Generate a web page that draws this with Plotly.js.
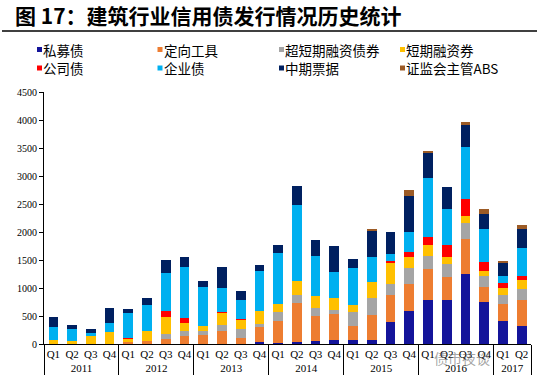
<!DOCTYPE html>
<html>
<head>
<meta charset="utf-8">
<script src="https://cdn.plot.ly/plotly-3.0.1.min.js"></script>
<style>html,body{margin:0;padding:0;background:#fff;}#chart{width:537px;height:388px;}</style>
</head>
<body>
<div id="chart"></div>
<script>
// Category labels (two-level x axis)
var years = ['2011','2011','2011','2011','2012','2012','2012','2012','2013','2013','2013','2013',
             '2014','2014','2014','2014','2015','2015','2015','2015','2016','2016','2016','2016','2017','2017'];
var quarters = ['Q1','Q2','Q3','Q4','Q1','Q2','Q3','Q4','Q1','Q2','Q3','Q4',
                'Q1','Q2','Q3','Q4','Q1','Q2','Q3','Q4','Q1','Q2','Q3','Q4','Q1','Q2'];

// Series values (亿元)
var siMuZhai     = [0,0,0,0,0,0,0,0,0,0,0,30,15,35,47,77,65,71,385,587,777,789,1258,759,403,314];
var dingXiang    = [0,0,0,0,30,60,85,140,160,240,113,267,389,690,451,463,261,439,499,481,558,415,623,262,309,463];
var chaoDuanQi   = [0,0,0,0,0,0,100,85,70,95,154,65,160,150,137,71,249,309,196,297,244,220,285,195,172,202];
var duanQi       = [80,50,135,215,65,165,290,155,100,220,155,220,155,250,231,202,119,296,368,184,190,131,119,89,113,172];
var gongSiZhai   = [0,0,0,0,20,0,120,80,0,18,18,0,0,0,0,0,0,0,41,101,148,219,297,155,89,65];
var qiYeZhai     = [220,225,70,155,430,475,675,920,680,420,350,719,909,1365,707,481,665,434,119,350,1051,636,932,599,125,505];
var zhongPiao    = [185,60,60,265,75,120,230,165,110,380,154,113,142,330,279,463,166,463,386,635,451,386,398,256,231,327];
var abs          = [0,0,0,0,0,0,0,0,0,0,0,0,0,0,0,0,0,47,0,107,36,0,59,89,36,77];

var seriesNames  = ['私募债','定向工具','超短期融资债券','短期融资券','公司债','企业债','中期票据','证监会主管ABS'];
var seriesValues = [siMuZhai, dingXiang, chaoDuanQi, duanQi, gongSiZhai, qiYeZhai, zhongPiao, abs];
var seriesColors = ['#14149a','#ed7d31','#a5a5a5','#ffc000','#ff0000','#00b0f0','#002060','#9c5b26'];

var chartTitle = '图 17：建筑行业信用债发行情况历史统计';
var watermark = '债市夜谈';

var traces = seriesNames.map(function(n, k){
  return {
    type: 'bar',
    name: n,
    x: [years, quarters],
    y: seriesValues[k],
    marker: {color: seriesColors[k], line: {width: 0}},
    hoverinfo: 'name+y'
  };
});

// plot area in pixels
var ML = 44, MR = 6, MT = 92, MB = 44;

// custom legend (4 columns x 2 rows)
var legCols = [37, 157.5, 279, 400];
var legRows = [49.5, 68];
var shapes = [];
var annotations = [];
seriesNames.forEach(function(n, k){
  var cx = legCols[k % 4], cy = legRows[Math.floor(k / 4)];
  shapes.push({
    type: 'rect', xref: 'paper', yref: 'paper',
    xsizemode: 'pixel', ysizemode: 'pixel', xanchor: 0, yanchor: 1,
    x0: cx - ML, x1: cx - ML + 5, y0: MT - cy - 2.5, y1: MT - cy + 2.5,
    fillcolor: seriesColors[k], line: {width: 0}
  });
  annotations.push({
    text: n, xref: 'paper', yref: 'paper', x: 0, y: 1,
    xshift: cx - ML + 5, yshift: MT - cy, xanchor: 'left', yanchor: 'middle',
    showarrow: false, borderpad: 0,
    font: {family: 'Noto Sans CJK SC', size: 13.5, color: '#000'}
  });
});
// title underline
shapes.push({
  type: 'line', xref: 'paper', yref: 'paper',
  xsizemode: 'pixel', ysizemode: 'pixel', xanchor: 0, yanchor: 1,
  x0: -42, x1: 537 - ML, y0: MT - 31, y1: MT - 31,
  line: {color: '#000', width: 1.5}
});
// watermark
annotations.push({
  text: watermark, xref: 'paper', yref: 'paper', x: 0, y: 1,
  xshift: 462 - ML, yshift: MT - 358, xanchor: 'center', yanchor: 'middle',
  showarrow: false, font: {family: 'Noto Sans CJK SC', size: 14, color: 'rgba(90,90,90,0.55)'}
});

var layout = {
  width: 537, height: 388,
  margin: {l: ML, r: MR, t: MT, b: MB, pad: 0},
  paper_bgcolor: '#fff', plot_bgcolor: '#fff',
  barmode: 'stack', bargap: 0.48,
  showlegend: false,
  title: {
    text: '<b>' + chartTitle + '</b>',
    xref: 'container', yref: 'container',
    x: 15 / 537, xanchor: 'left', y: 1 - 17 / 388, yanchor: 'middle',
    font: {family: 'Noto Sans CJK SC', size: 21, color: '#000'}
  },
  xaxis: {
    type: 'multicategory',
    tickangle: 0,
    showline: true, linecolor: '#000', linewidth: 1,
    ticks: '', showgrid: false, zeroline: false,
    showdividers: true, dividercolor: '#000', dividerwidth: 1,
    tickfont: {family: 'Liberation Serif', size: 11, color: '#000'}
  },
  yaxis: {
    range: [0, 4500], dtick: 500, tick0: 0,
    showline: true, linecolor: '#000', linewidth: 1,
    ticks: 'outside', ticklen: 4, tickcolor: '#000',
    showgrid: false, zeroline: false,
    tickfont: {family: 'Liberation Serif', size: 10, color: '#000'}
  },
  shapes: shapes,
  annotations: annotations
};

Plotly.newPlot('chart', traces, layout, {staticPlot: true, displayModeBar: false});
</script>
</body>
</html>
